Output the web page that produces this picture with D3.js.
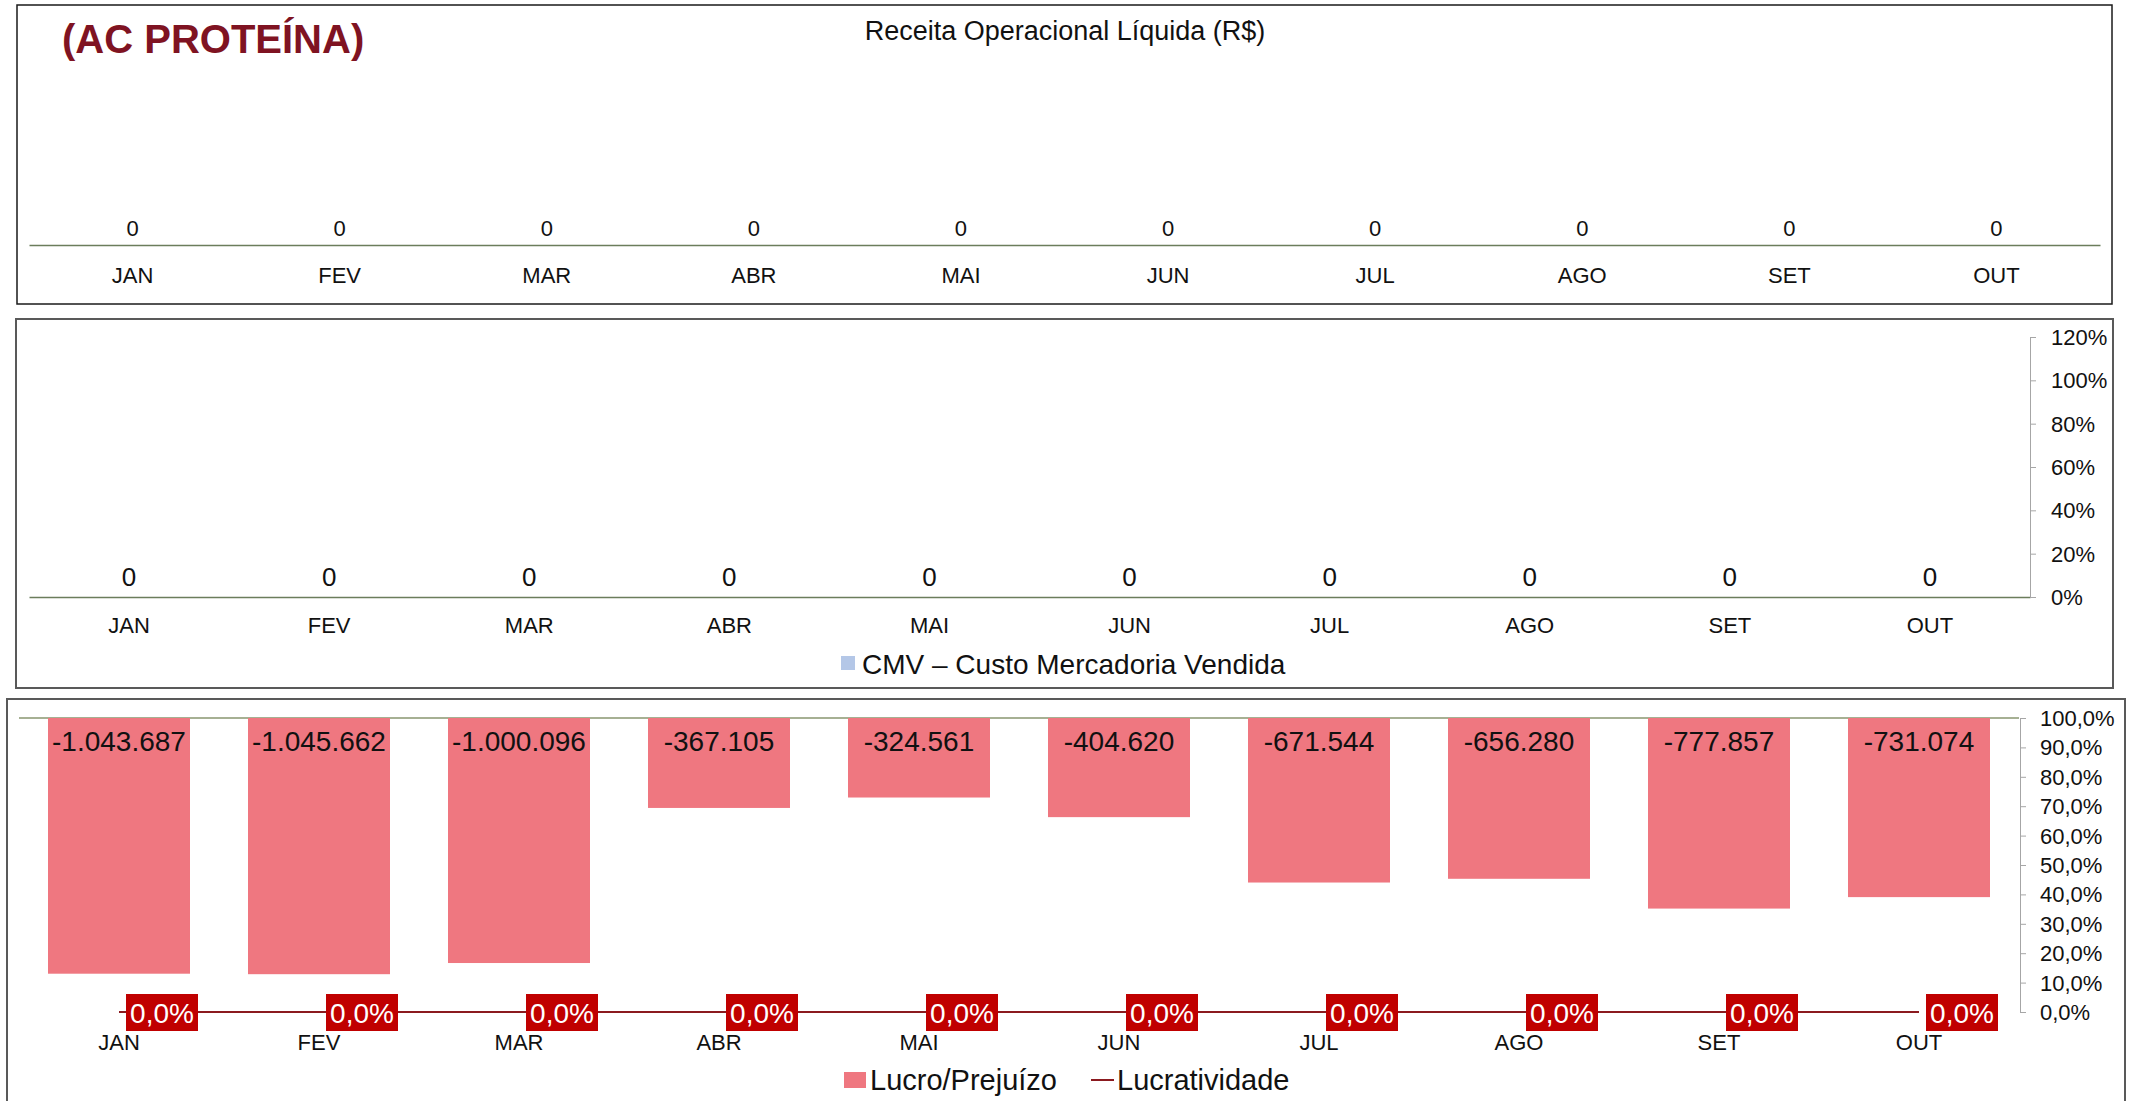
<!DOCTYPE html>
<html>
<head>
<meta charset="utf-8">
<script src="https://cdn.jsdelivr.net/npm/d3@7"></script>
<style>
    body { margin: 0; background: #fff; }
    svg text { font-family: "Liberation Sans", Arial, sans-serif; }
</style>
</head>
<body>
<div id="chart"></div>
<script>
// Painel AC PROTEÍNA - receita, CMV e lucro/prejuízo por mês

const months = ["JAN", "FEV", "MAR", "ABR", "MAI", "JUN", "JUL", "AGO", "SET", "OUT"];
const receita = [0, 0, 0, 0, 0, 0, 0, 0, 0, 0];
const cmv = [0, 0, 0, 0, 0, 0, 0, 0, 0, 0];
const lucro = [-1043687, -1045662, -1000096, -367105, -324561, -404620, -671544, -656280, -777857, -731074];
const lucratividade = [0, 0, 0, 0, 0, 0, 0, 0, 0, 0];
const cmvPctTicks = [0, 0.2, 0.4, 0.6, 0.8, 1.0, 1.2];
const lucroPctTicks = [0, 0.1, 0.2, 0.3, 0.4, 0.5, 0.6, 0.7, 0.8, 0.9, 1.0];

const width = 2136, height = 1101;

// brazilian number format
const br = d3.formatLocale({decimal: ",", thousands: ".", grouping: [3], currency: ["R$ ", ""], minus: "-"});
const fmtNum = br.format(",.0f");
const fmtPct0 = br.format(".0%");
const fmtPct1 = br.format(".1%");

const svg = d3.select("#chart").append("svg")
    .attr("width", width)
    .attr("height", height);

// panel frames
svg.append("rect").attr("x", 17).attr("y", 5).attr("width", 2095).attr("height", 299)
    .attr("fill", "none").attr("stroke", "#1a1a1a").attr("stroke-width", 1.5);
svg.append("rect").attr("x", 16).attr("y", 319).attr("width", 2097).attr("height", 369)
    .attr("fill", "none").attr("stroke", "#595959").attr("stroke-width", 2);
svg.append("rect").attr("x", 7).attr("y", 699).attr("width", 2118).attr("height", 420)
    .attr("fill", "none").attr("stroke", "#595959").attr("stroke-width", 2);

// ---------- painel 1: receita ----------
let p1 = svg.append("g");

let x1 = d3.scaleBand().domain(months).range([29, 2100]).paddingInner(0.3).paddingOuter(0.15);
let y1 = d3.scaleLinear().domain([0, 1]).range([245, 70]);

p1.append("text")
    .text("(AC PROTEÍNA)")
    .attr("x", 62).attr("y", 53)
    .attr("fill", "#7f1322")
    .attr("font-size", 40)
    .attr("font-weight", "bold");

p1.append("text")
    .text("Receita Operacional Líquida (R$)")
    .attr("x", 1065).attr("y", 40)
    .attr("text-anchor", "middle")
    .attr("font-size", 27)
    .attr("fill", "#111");

p1.selectAll(".bar1").data(receita).enter()
    .append("rect")
    .attr("class", "bar1")
    .attr("x", (d, i) => x1(months[i]))
    .attr("width", x1.bandwidth())
    .attr("y", d => y1(d))
    .attr("height", d => y1(0) - y1(d))
    .attr("fill", "#4f81bd");

p1.selectAll(".lab1").data(receita).enter()
    .append("text")
    .attr("class", "lab1")
    .text(d => fmtNum(d))
    .attr("x", (d, i) => x1(months[i]) + x1.bandwidth() / 2)
    .attr("y", d => y1(d) - 17)
    .attr("dominant-baseline", "central")
    .attr("text-anchor", "middle")
    .attr("font-size", 22)
    .attr("fill", "#111");

let ax1 = p1.append("g")
    .attr("transform", "translate(0," + y1(0) + ")")
    .call(d3.axisBottom(x1).tickSize(0).tickSizeOuter(0));
ax1.select(".domain").attr("stroke", "#6b7d5c").attr("stroke-width", 1.5);
ax1.selectAll("text").attr("y", 30).attr("dy", null).attr("dominant-baseline", "central")
    .attr("font-size", 22).attr("fill", "#111");

// ---------- painel 2: CMV ----------
let p2 = svg.append("g");

let x2 = d3.scaleBand().domain(months).range([29, 2030]).paddingInner(0.3).paddingOuter(0.15);
let y2 = d3.scaleLinear().domain([0, 1]).range([597, 400]);
let y2pct = d3.scaleLinear().domain([0, 1.2]).range([597, 337]);

p2.selectAll(".bar2").data(cmv).enter()
    .append("rect")
    .attr("class", "bar2")
    .attr("x", (d, i) => x2(months[i]))
    .attr("width", x2.bandwidth())
    .attr("y", d => y2(d))
    .attr("height", d => y2(0) - y2(d))
    .attr("fill", "#b4c7e7");

p2.selectAll(".lab2").data(cmv).enter()
    .append("text")
    .attr("class", "lab2")
    .text(d => fmtNum(d))
    .attr("x", (d, i) => x2(months[i]) + x2.bandwidth() / 2)
    .attr("y", d => y2(d) - 20)
    .attr("dominant-baseline", "central")
    .attr("text-anchor", "middle")
    .attr("font-size", 26)
    .attr("fill", "#111");

let ax2 = p2.append("g")
    .attr("transform", "translate(0," + y2(0) + ")")
    .call(d3.axisBottom(x2).tickSize(0).tickSizeOuter(0));
ax2.select(".domain").attr("stroke", "#6b7d5c").attr("stroke-width", 1.5);
ax2.selectAll("text").attr("y", 28).attr("dy", null).attr("dominant-baseline", "central")
    .attr("font-size", 22).attr("fill", "#111");

let ay2 = p2.append("g")
    .attr("transform", "translate(2030,0)")
    .call(d3.axisRight(y2pct).tickValues(cmvPctTicks).tickFormat(fmtPct0).tickSize(6).tickSizeOuter(0).tickPadding(15));
ay2.select(".domain").attr("stroke", "#a6a6a6");
ay2.selectAll(".tick line").attr("stroke", "#a6a6a6");
ay2.selectAll("text").attr("dy", null).attr("dominant-baseline", "central")
    .attr("font-size", 22).attr("fill", "#111");

// legend
p2.append("rect").attr("x", 841).attr("y", 656).attr("width", 14).attr("height", 14).attr("fill", "#b4c7e7");
p2.append("text").text("CMV – Custo Mercadoria Vendida")
    .attr("x", 862).attr("y", 664)
    .attr("dominant-baseline", "central")
    .attr("font-size", 28).attr("fill", "#111");

// ---------- painel 3: lucro / lucratividade ----------
let p3 = svg.append("g");

let x3 = d3.scaleBand().domain(months).range([19, 2019]).paddingInner(0.29).paddingOuter(0.145);
let y3 = d3.scaleLinear().domain([-1200000, 0]).range([1012, 718]);
let y3pct = d3.scaleLinear().domain([0, 1]).range([1012, 718]);

// zero line on top
p3.append("line")
    .attr("x1", 19).attr("x2", 2019)
    .attr("y1", y3(0)).attr("y2", y3(0))
    .attr("stroke", "#4f6228").attr("stroke-width", 1.2);

p3.selectAll(".bar3").data(lucro).enter()
    .append("rect")
    .attr("class", "bar3")
    .attr("x", (d, i) => x3(months[i]))
    .attr("width", x3.bandwidth())
    .attr("y", y3(0))
    .attr("height", d => y3(d) - y3(0))
    .attr("fill", "#ef7780");

p3.selectAll(".lab3").data(lucro).enter()
    .append("text")
    .attr("class", "lab3")
    .text(d => fmtNum(d))
    .attr("x", (d, i) => x3(months[i]) + x3.bandwidth() / 2)
    .attr("y", y3(0) + 23)
    .attr("dominant-baseline", "central")
    .attr("text-anchor", "middle")
    .attr("font-size", 28)
    .attr("fill", "#111");

let ay3 = p3.append("g")
    .attr("transform", "translate(2020,0)")
    .call(d3.axisRight(y3pct).tickValues(lucroPctTicks).tickFormat(fmtPct1).tickSize(6).tickSizeOuter(0).tickPadding(14));
ay3.select(".domain").attr("stroke", "#a6a6a6");
ay3.selectAll(".tick line").attr("stroke", "#a6a6a6");
ay3.selectAll("text").attr("dy", null).attr("dominant-baseline", "central")
    .attr("font-size", 22).attr("fill", "#111");

// lucratividade line
let line = d3.line()
    .x((d, i) => x3(months[i]) + x3.bandwidth() / 2)
    .y(d => y3pct(d));

p3.append("path")
    .datum(lucratividade)
    .attr("d", line)
    .attr("fill", "none")
    .attr("stroke", "#8b1a1f")
    .attr("stroke-width", 2);

let pctLab = p3.selectAll(".pct").data(lucratividade).enter()
    .append("g")
    .attr("class", "pct")
    .attr("transform", (d, i) => "translate(" + (x3(months[i]) + x3.bandwidth() / 2 + 7) + "," + y3pct(d) + ")");

pctLab.append("rect")
    .attr("x", 0).attr("y", -18)
    .attr("width", 72).attr("height", 37)
    .attr("fill", "#c00000");

pctLab.append("text")
    .text(d => fmtPct1(d))
    .attr("x", 36).attr("y", 1)
    .attr("dominant-baseline", "central")
    .attr("text-anchor", "middle")
    .attr("font-size", 28)
    .attr("fill", "white");

let ax3 = p3.append("g")
    .attr("transform", "translate(0," + y3pct(0) + ")")
    .call(d3.axisBottom(x3).tickSize(0).tickSizeOuter(0));
ax3.select(".domain").remove();
ax3.selectAll("text").attr("y", 30).attr("dy", null).attr("dominant-baseline", "central")
    .attr("font-size", 22).attr("fill", "#111");

// legend
p3.append("rect").attr("x", 844).attr("y", 1072).attr("width", 22).attr("height", 16).attr("fill", "#ef7780");
p3.append("text").text("Lucro/Prejuízo")
    .attr("x", 870).attr("y", 1080)
    .attr("dominant-baseline", "central")
    .attr("font-size", 29).attr("fill", "#111");
p3.append("line").attr("x1", 1091).attr("x2", 1114).attr("y1", 1080).attr("y2", 1080)
    .attr("stroke", "#8b1a1f").attr("stroke-width", 2);
p3.append("text").text("Lucratividade")
    .attr("x", 1117).attr("y", 1080)
    .attr("dominant-baseline", "central")
    .attr("font-size", 29).attr("fill", "#111");
</script>
</body>
</html>
